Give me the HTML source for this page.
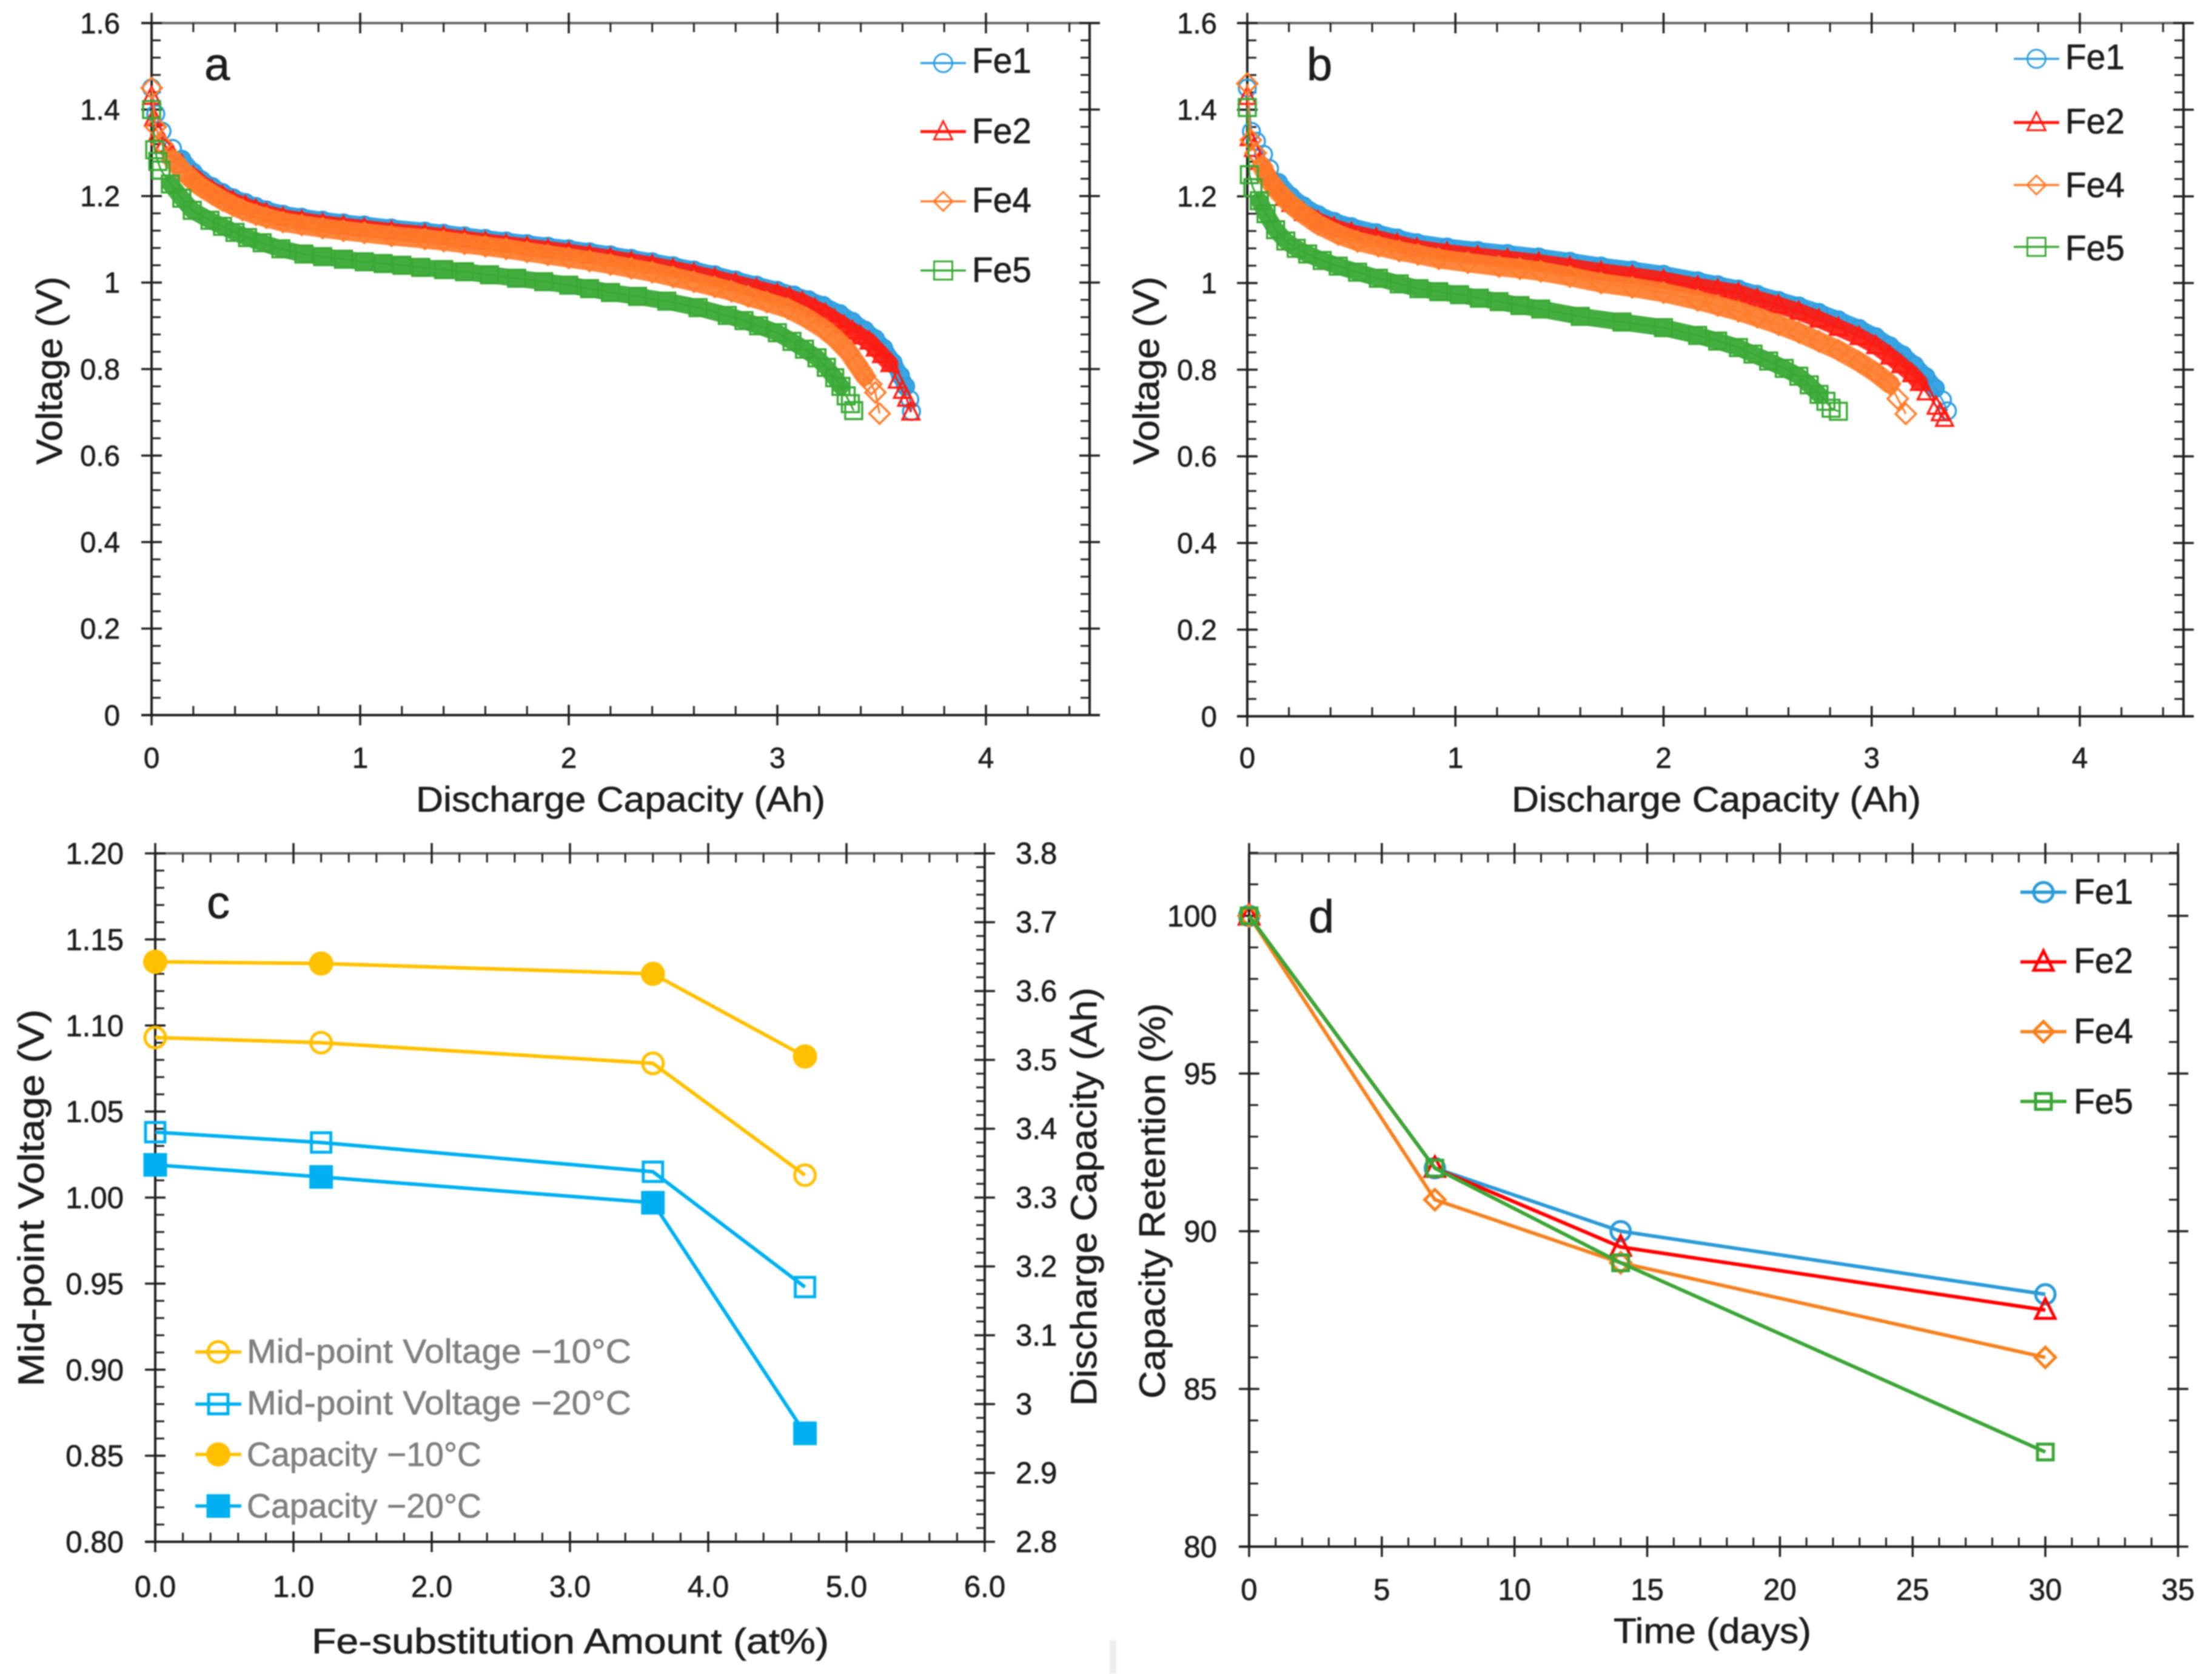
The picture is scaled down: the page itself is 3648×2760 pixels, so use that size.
<!DOCTYPE html>
<html lang="en">
<head>
<meta charset="utf-8">
<title>Fe-substitution battery charts</title>
<style>
html,body{margin:0;padding:0;background:#fff;}
#figure{display:block;filter:blur(1.1px);}
text{font-family:"Liberation Sans",sans-serif;fill:#1c1c1c;stroke:#1c1c1c;stroke-width:.7px;}
text.gray{fill:#7f7f7f;stroke:#7f7f7f;}
</style>
</head>
<body>
<svg id="figure" xmlns="http://www.w3.org/2000/svg" width="3648" height="2760" viewBox="0 0 3648 2760">
  <rect width="3648" height="2760" fill="#fff"/>
  <rect x="1830" y="2704" width="11" height="56" fill="#eeeeee"/>
  <g id="marks"></g>

  <text x="337" y="132" font-size="76">a</text>
  <text x="686" y="1338" font-size="58" textLength="675" lengthAdjust="spacingAndGlyphs">Discharge Capacity (Ah)</text>
  <text transform="translate(102,766) rotate(-90)" font-size="60" textLength="310" lengthAdjust="spacingAndGlyphs">Voltage (V)</text>
  <text x="1603" y="120" font-size="58" textLength="98" lengthAdjust="spacingAndGlyphs">Fe1</text>
  <text x="1603" y="236" font-size="58" textLength="98" lengthAdjust="spacingAndGlyphs">Fe2</text>
  <text x="1603" y="350" font-size="58" textLength="98" lengthAdjust="spacingAndGlyphs">Fe4</text>
  <text x="1603" y="465" font-size="58" textLength="98" lengthAdjust="spacingAndGlyphs">Fe5</text>

  <text x="2155" y="132" font-size="76">b</text>
  <text x="2493" y="1338" font-size="58" textLength="675" lengthAdjust="spacingAndGlyphs">Discharge Capacity (Ah)</text>
  <text transform="translate(1911,766) rotate(-90)" font-size="60" textLength="310" lengthAdjust="spacingAndGlyphs">Voltage (V)</text>
  <text x="3406" y="114" font-size="58" textLength="98" lengthAdjust="spacingAndGlyphs">Fe1</text>
  <text x="3406" y="220" font-size="58" textLength="98" lengthAdjust="spacingAndGlyphs">Fe2</text>
  <text x="3406" y="325" font-size="58" textLength="98" lengthAdjust="spacingAndGlyphs">Fe4</text>
  <text x="3406" y="429" font-size="58" textLength="98" lengthAdjust="spacingAndGlyphs">Fe5</text>

  <text x="341" y="1514" font-size="76">c</text>
  <text x="514" y="2726" font-size="58" textLength="853" lengthAdjust="spacingAndGlyphs">Fe-substitution Amount (at%)</text>
  <text transform="translate(72,2286) rotate(-90)" font-size="60" textLength="622" lengthAdjust="spacingAndGlyphs">Mid-point Voltage (V)</text>
  <text transform="translate(1808,2318) rotate(-90)" font-size="60" textLength="690" lengthAdjust="spacingAndGlyphs">Discharge Capacity (Ah)</text>
  <text class="gray" x="407" y="2247" font-size="56" textLength="634" lengthAdjust="spacingAndGlyphs">Mid-point Voltage −10°C</text>
  <text class="gray" x="407" y="2332" font-size="56" textLength="634" lengthAdjust="spacingAndGlyphs">Mid-point Voltage −20°C</text>
  <text class="gray" x="407" y="2417" font-size="56" textLength="387" lengthAdjust="spacingAndGlyphs">Capacity −10°C</text>
  <text class="gray" x="407" y="2502" font-size="56" textLength="387" lengthAdjust="spacingAndGlyphs">Capacity −20°C</text>

  <text x="2158" y="1537" font-size="76">d</text>
  <text x="2661" y="2709" font-size="58" textLength="326" lengthAdjust="spacingAndGlyphs">Time (days)</text>
  <text transform="translate(1921,2306) rotate(-90)" font-size="60" textLength="652" lengthAdjust="spacingAndGlyphs">Capacity Retention (%)</text>
  <text x="3420" y="1490" font-size="58" textLength="98" lengthAdjust="spacingAndGlyphs">Fe1</text>
  <text x="3420" y="1604" font-size="58" textLength="98" lengthAdjust="spacingAndGlyphs">Fe2</text>
  <text x="3420" y="1720" font-size="58" textLength="98" lengthAdjust="spacingAndGlyphs">Fe4</text>
  <text x="3420" y="1836" font-size="58" textLength="98" lengthAdjust="spacingAndGlyphs">Fe5</text>
</svg>
<script>
// ---- tick labels ----
const capTickValues = [0, 1, 2, 3, 4];
const capTickLabels = ['0', '1', '2', '3', '4'];
const voltTickValues = [0, 0.2, 0.4, 0.6, 0.8, 1, 1.2, 1.4, 1.6];
const voltTickLabels = ['0', '0.2', '0.4', '0.6', '0.8', '1', '1.2', '1.4', '1.6'];
const feTickValues = [0, 1, 2, 3, 4, 5, 6];
const feTickLabels = ['0.0', '1.0', '2.0', '3.0', '4.0', '5.0', '6.0'];
const midTickValues = [0.8, 0.85, 0.9, 0.95, 1, 1.05, 1.1, 1.15, 1.2];
const midTickLabels = ['0.80', '0.85', '0.90', '0.95', '1.00', '1.05', '1.10', '1.15', '1.20'];
const capRightTickValues = [2.8, 2.9, 3, 3.1, 3.2, 3.3, 3.4, 3.5, 3.6, 3.7, 3.8];
const capRightTickLabels = ['2.8', '2.9', '3', '3.1', '3.2', '3.3', '3.4', '3.5', '3.6', '3.7', '3.8'];
const dayTickValues = [0, 5, 10, 15, 20, 25, 30, 35];
const dayTickLabels = ['0', '5', '10', '15', '20', '25', '30', '35'];
const retTickValues = [80, 85, 90, 95, 100];
const retTickLabels = ['80', '85', '90', '95', '100'];

// ---- panel a: discharge curves ----
const aFe1Cap = [0,.02,.05,.1,.145,.2,.24,.29,.34,.39,.45,.5,.55,.63,.72,.82,.92,1.02,1.15,1.31,1.4,1.5,1.6,1.7,1.8,1.9,2,2.1,2.2,2.3,2.4,2.5,2.6,2.7,2.8,2.9,3,3.08,3.15,3.22,3.3,3.36,3.42,3.47,3.51,3.555,3.59,3.615,3.635,3.643];
const aFe1V = [1.45,1.39,1.35,1.31,1.285,1.255,1.237,1.222,1.208,1.196,1.185,1.176,1.168,1.158,1.151,1.144,1.138,1.133,1.126,1.119,1.114,1.108,1.102,1.096,1.09,1.084,1.078,1.071,1.064,1.056,1.048,1.039,1.029,1.018,1.006,.994,.982,.971,.96,.947,.928,.91,.89,.87,.848,.815,.785,.76,.73,.702];
const aFe2Cap = [0,.01,.03,.06,.1,.145,.2,.24,.29,.34,.39,.45,.5,.55,.63,.72,.82,.92,1.02,1.15,1.31,1.4,1.5,1.6,1.7,1.8,1.9,2,2.1,2.2,2.3,2.4,2.5,2.6,2.7,2.8,2.9,3,3.06,3.12,3.18,3.23,3.275,3.32,3.36,3.4,3.44,3.47,3.5,3.54,3.575,3.6,3.62,3.64];
const aFe2V = [1.43,1.38,1.345,1.32,1.295,1.272,1.245,1.228,1.213,1.2,1.188,1.177,1.168,1.16,1.15,1.143,1.136,1.13,1.125,1.118,1.111,1.106,1.1,1.094,1.088,1.082,1.076,1.07,1.063,1.056,1.048,1.04,1.031,1.021,1.01,.998,.986,.974,.965,.955,.94,.928,.914,.9,.888,.876,.864,.848,.833,.812,.774,.75,.732,.70];
const aFe4Cap = [0,.02,.05,.1,.145,.2,.24,.29,.34,.39,.436,.5,.55,.63,.72,.82,.92,1.02,1.15,1.31,1.4,1.5,1.6,1.7,1.8,1.9,2,2.1,2.2,2.3,2.4,2.5,2.6,2.7,2.78,2.86,2.95,3.05,3.14,3.225,3.28,3.34,3.38,3.42,3.45,3.47,3.49];
const aFe4V = [1.45,1.36,1.32,1.285,1.26,1.235,1.22,1.205,1.19,1.178,1.168,1.157,1.15,1.14,1.133,1.126,1.12,1.115,1.108,1.101,1.096,1.09,1.084,1.078,1.071,1.064,1.057,1.05,1.042,1.033,1.024,1.013,1.002,.99,.98,.968,.955,.94,.918,.892,.87,.84,.812,.784,.765,.746,.697];
const aFe5Cap = [0,.015,.03,.045,.09,.145,.195,.28,.34,.4,.46,.53,.62,.73,.82,.92,1.02,1.11,1.2,1.29,1.4,1.5,1.62,1.75,1.88,2,2.1,2.2,2.33,2.47,2.62,2.76,2.84,2.91,3,3.07,3.13,3.19,3.235,3.275,3.305,3.33,3.35,3.366];
const aFe5V = [1.40,1.307,1.28,1.26,1.228,1.195,1.167,1.144,1.13,1.116,1.104,1.092,1.078,1.066,1.06,1.054,1.048,1.044,1.04,1.035,1.03,1.025,1.018,1.01,1.002,.994,.986,.977,.968,.957,.942,.924,.912,.9,.884,.864,.846,.826,.804,.78,.76,.738,.72,.704];

// ---- panel b: discharge curves ----
const bFe1Cap = [0,.02,.044,.078,.107,.15,.21,.27,.34,.417,.5,.62,.72,.815,.96,1.107,1.25,1.4,1.55,1.7,1.85,2,2.164,2.26,2.36,2.45,2.552,2.65,2.747,2.84,2.94,3.02,3.088,3.15,3.207,3.26,3.306,3.34,3.364];
const bFe1V = [1.45,1.35,1.327,1.297,1.264,1.232,1.2,1.178,1.158,1.142,1.13,1.116,1.104,1.093,1.083,1.075,1.068,1.06,1.05,1.039,1.03,1.02,1.005,.996,.986,.974,.96,.947,.932,.915,.895,.876,.855,.834,.81,.784,.757,.73,.705];
const bFe2Cap = [0,.01,.03,.06,.09,.13,.18,.21,.27,.34,.417,.5,.62,.72,.815,.96,1.107,1.25,1.4,1.55,1.7,1.85,2,2.164,2.26,2.36,2.45,2.552,2.65,2.747,2.84,2.94,3.02,3.088,3.14,3.193,3.23,3.262,3.31,3.33,3.35];
const bFe2V = [1.43,1.335,1.31,1.28,1.255,1.225,1.197,1.183,1.162,1.143,1.128,1.116,1.103,1.091,1.08,1.07,1.062,1.055,1.047,1.037,1.026,1.017,1.007,.992,.985,.977,.963,.949,.934,.916,.897,.876,.855,.831,.811,.79,.77,.748,.715,.70,.687];
const bFe4Cap = [0,.017,.04,.07,.1,.15,.2,.243,.34,.437,.53,.63,.73,.82,.92,1.06,1.21,1.31,1.41,1.55,1.7,1.85,2,2.164,2.26,2.36,2.45,2.552,2.65,2.747,2.84,2.94,3.02,3.088,3.125,3.164];
const bFe4V = [1.46,1.33,1.3,1.27,1.24,1.21,1.185,1.168,1.135,1.112,1.096,1.085,1.074,1.066,1.056,1.047,1.038,1.033,1.027,1.015,1.0,.99,.978,.96,.948,.935,.921,.904,.886,.865,.845,.818,.793,.767,.733,.698];
const bFe5Cap = [0,.01,.027,.058,.09,.136,.185,.235,.29,.36,.437,.53,.63,.73,.825,.92,1.02,1.115,1.21,1.31,1.41,1.6,1.8,2,2.164,2.26,2.36,2.43,2.505,2.58,2.65,2.7,2.747,2.78,2.805,2.84];
const bFe5V = [1.405,1.25,1.22,1.19,1.16,1.123,1.097,1.08,1.067,1.052,1.039,1.025,1.011,.998,.987,.98,.973,.965,.957,.948,.94,.923,.91,.897,.879,.866,.851,.836,.82,.803,.785,.765,.743,.727,.711,.704];

// ---- panel c: mid-point voltage and capacity ----
const feAmounts = [0, 1.2, 3.6, 4.7];
const midVoltage10 = [1.093, 1.090, 1.078, 1.013];
const midVoltage20 = [1.038, 1.032, 1.015, 0.948];
const capacity10 = [3.6425, 3.64, 3.625, 3.505];
const capacity20 = [3.3475, 3.33, 3.2925, 2.9575];

// ---- panel d: capacity retention ----
const retentionDays = [0, 7, 14, 30];
const retentionFe1 = [100, 92, 90, 88];
const retentionFe2 = [100, 92, 89.5, 87.5];
const retentionFe4 = [100, 91, 89, 86];
const retentionFe5 = [100, 92, 89, 83];

const NS = 'http://www.w3.org/2000/svg';
const root = document.getElementById('marks');
const AXIS = '#1e1e1e';
const C = {fe1:'#2f9fe0', fe2:'#ff1a10', fe4:'#ff7c2a', fe5:'#3aa935'};
const D = {fe1:'#2b9bd8', fe2:'#ff0000', fe4:'#f58220', fe5:'#3aa635', yel:'#ffc000', cya:'#00b0f0'};

function mk(tag, attrs, name, parent, txt) {
  const el = document.createElementNS(NS, tag);
  for (const k in attrs) el.setAttribute(k, attrs[k]);
  
  
  if (txt !== undefined) el.textContent = txt;
  parent.appendChild(el);
  return el;
}
function linear(d0, d1, r0, r1) { return v => r0 + (v - d0) * (r1 - r0) / (d1 - d0); }
function seg(p, x1, y1, x2, y2, name, w, col) {
  mk('line', {x1, y1, x2, y2, stroke: col || AXIS, 'stroke-width': w || 3.5}, name, p);
}
// narrow digits: labels are fitted to the condensed width of the original typeface
function labelWidth(str, em) {
  let w = 0;
  for (const ch of str) w += (ch === '.') ? 0.252 * em : 0.507 * em;
  return w;
}

function axes(p, id, o) {
  const g = mk('g', {}, id + '-axes', p);
  const {X, Y, l, r, t, b} = o;
  seg(g, l, t, l, b, id + '-left-axis-line', 4);
  seg(g, r, t, r, b, id + '-right-axis-line', 4);
  seg(g, l - (o.xOver || 0), t, r + (o.xOver || 0), t, id + '-top-axis-line', 4, '#666');
  seg(g, l - 17, b, r + (o.xOver || 0), b, id + '-bottom-axis-line', 4);
  o.xT.forEach((v, i) => {
    const x = X(v);
    seg(g, x, b - 17, x, b + 17, id + '-x-major-tick', 3.5);
    seg(g, x, t - 17, x, t + 17, id + '-x-top-major-tick', 3.5);
    mk('text', {x: x, y: o.xLabY, 'text-anchor': 'middle', 'font-size': o.fs, textLength: labelWidth(o.xL[i], o.em), lengthAdjust: 'spacingAndGlyphs'}, id + '-x-tick-label', g, o.xL[i]);
  });
  for (let v = o.xMin; v <= o.xMax + 1e-6; v += o.xMinor) {
    const x = X(v);
    seg(g, x, b - 15, x, b, id + '-x-minor-tick', 3);
    seg(g, x, t, x, t + 15, id + '-x-top-minor-tick', 3);
  }
  o.yT.forEach((v, i) => {
    const y = Y(v);
    seg(g, l - 17, y, l + 17, y, id + '-y-major-tick', 3.5);
    if (o.rightMajor) seg(g, r - 17, y, r + 17, y, id + '-y-right-major-tick', 3.5);
    mk('text', {x: o.yLabX, y: y + o.fs * 0.35, 'text-anchor': 'end', 'font-size': o.fs, textLength: labelWidth(o.yL[i], o.em), lengthAdjust: 'spacingAndGlyphs'}, id + '-y-tick-label', g, o.yL[i]);
  });
  for (let v = o.yMin; v <= o.yMax + 1e-6; v += o.yMinor) {
    const y = Y(v);
    seg(g, l, y, l + 15, y, id + '-y-minor-tick', 3);
    if (o.rightMajor) seg(g, r - 15, y, r, y, id + '-y-right-minor-tick', 3);
  }
}

function marker(p, kind, x, y, s, col, sw, fill, name) {
  const a = {fill: fill || 'none', stroke: col, 'stroke-width': sw};
  if (kind === 'circle') { a.cx = x; a.cy = y; a.r = s; mk('circle', a, name, p); }
  if (kind === 'square') { a.x = x - s; a.y = y - s; a.width = 2 * s; a.height = 2 * s; mk('rect', a, name, p); }
  if (kind === 'triangle') { a.points = [x, y - s * 1.15, x + s, y + s * 0.85, x - s, y + s * 0.85].join(','); mk('polygon', a, name, p); }
  if (kind === 'diamond') { a.points = [x, y - s * 1.2, x + s * 1.2, y, x, y + s * 1.2, x - s * 1.2, y].join(','); mk('polygon', a, name, p); }
}

function bandSeries(p, id, X, Y, xs, ys, col, kind, from, tail, width, op) {
  const g = mk('g', {}, id + '-series', p);
  const all = xs.map((v, i) => X(v) + ',' + Y(ys[i])).join(' ');
  mk('polyline', {points: all, fill: 'none', stroke: col, 'stroke-width': 3}, id + '-line', g);
  const stop = xs.length - tail;
  const band = xs.slice(from, stop).map((v, i) => X(v) + ',' + Y(ys[i + from])).join(' ');
  mk('polyline', {points: band, fill: 'none', stroke: col, 'stroke-width': width, 'stroke-linejoin': 'round', 'stroke-linecap': 'round', 'stroke-opacity': op}, id + '-band', g);
  xs.forEach((v, i) => marker(g, kind, X(v), Y(ys[i]), 14, col, 3.5, null, id + '-point'));
}

function lineSeries(p, id, X, Y, xs, ys, col, kind, size, fill) {
  const g = mk('g', {}, id + '-series', p);
  mk('polyline', {points: xs.map((v, i) => X(v) + ',' + Y(ys[i])).join(' '), fill: 'none', stroke: col, 'stroke-width': 6}, id + '-line', g);
  xs.forEach((v, i) => marker(g, kind, X(v), Y(ys[i]), size, col, 5, fill ? col : 'none', id + '-point'));
}

function legendKey(p, id, x1, x2, y, col, kind, s, sw, lw, filled) {
  const g = mk('g', {}, id, p);
  seg(g, x1, y, x2, y, id + '-line', lw, col);
  marker(g, kind, (x1 + x2) / 2, y, s, col, sw, filled ? col : 'none', id + '-marker');
}

function dischargePanel(id, l, r, t, b, x4, yLabX, series, keyX1, keyX2, keyY) {
  const X = linear(0, 4, l, x4), Y = linear(0, 1.6, b, t);
  const p = mk('g', {}, id, root);
  axes(p, id, {X, Y, l, r, t, b, xOver: 17, rightMajor: true, xT: capTickValues, xL: capTickLabels, xMin: 0, xMax: 4.5, xMinor: 0.2,
    yT: voltTickValues, yL: voltTickLabels, yMin: 0, yMax: 1.6, yMinor: 0.04, xLabY: 1266, yLabX, fs: 48, em: 52});
  const kinds = ['circle', 'triangle', 'diamond', 'square'];
  const cols = [C.fe1, C.fe2, C.fe4, C.fe5];
  const widths = [28, 28, 32, 28];
  const ops = [0.95, 0.92, 0.92, 0.95];
  const names = ['fe1', 'fe2', 'fe4', 'fe5'];
  series.forEach((s, i) => bandSeries(p, id + '-' + names[i], X, Y, s[0], s[1], cols[i], kinds[i], s[2], s[3], widths[i], ops[i]));
  names.forEach((n, i) => legendKey(p, id + '-legend-key-' + n, keyX1, keyX2, keyY[i], cols[i], kinds[i], i === 2 ? 13 : 15, 3, i === 1 ? 5 : 3.5));
}

dischargePanel('panel-a', 250, 1797, 38, 1179, 1626, 198, [
  [aFe1Cap, aFe1V, 4, 2], [aFe2Cap, aFe2V, 6, 4], [aFe4Cap, aFe4V, 3, 3], [aFe5Cap, aFe5V, 4, 3]
], 1518, 1593, [104, 217, 332, 446]);
dischargePanel('panel-b', 2057, 3601, 38, 1181, 3430, 2007, [
  [bFe1Cap, bFe1V, 5, 2], [bFe2Cap, bFe2V, 4, 4], [bFe4Cap, bFe4V, 3, 2], [bFe5Cap, bFe5V, 3, 3]
], 3321, 3396, [97, 202, 305, 407]);

// panel c
(function () {
  const l = 256, r = 1624, t = 1407, b = 2542;
  const X = linear(0, 6, l, r), Y = linear(0.8, 1.2, b, t), YR = linear(2.8, 3.8, b, t);
  const p = mk('g', {}, 'panel-c', root);
  axes(p, 'panel-c', {X, Y, l, r, t, b, xOver: 0, rightMajor: false, xT: feTickValues, xL: feTickLabels, xMin: 0, xMax: 6, xMinor: 0.2,
    yT: midTickValues, yL: midTickLabels, yMin: 0.8, yMax: 1.2, yMinor: 0.01, xLabY: 2633, yLabX: 204, fs: 50, em: 54});
  capRightTickValues.forEach((v, i) => {
    const y = YR(v);
    seg(p, r - 17, y, r + 17, y, 'panel-c-right-major-tick', 3.5);
    mk('text', {x: 1675, y: y + 17, 'font-size': 50, textLength: labelWidth(capRightTickLabels[i], 54), lengthAdjust: 'spacingAndGlyphs'}, 'panel-c-right-tick-label', p, capRightTickLabels[i]);
  });
  for (let v = 2.8; v <= 3.8 + 1e-6; v += 0.02) {
    seg(p, r - 14, YR(v), r, YR(v), 'panel-c-right-minor-tick', 3);
  }
  lineSeries(p, 'panel-c-capacity-10', X, YR, feAmounts, capacity10, D.yel, 'circle', 17.5, true);
  lineSeries(p, 'panel-c-midpoint-10', X, Y, feAmounts, midVoltage10, D.yel, 'circle', 17, false);
  lineSeries(p, 'panel-c-midpoint-20', X, Y, feAmounts, midVoltage20, D.cya, 'square', 16, false);
  lineSeries(p, 'panel-c-capacity-20', X, YR, feAmounts, capacity20, D.cya, 'square', 17, true);
  legendKey(p, 'panel-c-legend-key-mid-10', 322, 398, 2229, D.yel, 'circle', 17, 5, 5.5);
  legendKey(p, 'panel-c-legend-key-mid-20', 322, 398, 2315, D.cya, 'square', 16, 5, 5.5);
  legendKey(p, 'panel-c-legend-key-cap-10', 322, 398, 2398, D.yel, 'circle', 17.5, 5, 5.5, true);
  legendKey(p, 'panel-c-legend-key-cap-20', 322, 398, 2483, D.cya, 'square', 17, 5, 5.5, true);
})();

// panel d
(function () {
  const l = 2060, r = 3592, t = 1407, b = 2550;
  const X = linear(0, 35, l, r), Y = linear(80, 100, b, 1510);
  const p = mk('g', {}, 'panel-d', root);
  axes(p, 'panel-d', {X, Y, l, r, t, b, xOver: 0, rightMajor: true, xT: dayTickValues, xL: dayTickLabels, xMin: 0, xMax: 35, xMinor: 1,
    yT: retTickValues, yL: retTickLabels, yMin: 80, yMax: 102, yMinor: 1, xLabY: 2638, yLabX: 2007, fs: 50, em: 54});
  lineSeries(p, 'panel-d-fe1', X, Y, retentionDays, retentionFe1, D.fe1, 'circle', 16, false);
  lineSeries(p, 'panel-d-fe2', X, Y, retentionDays, retentionFe2, D.fe2, 'triangle', 16, false);
  lineSeries(p, 'panel-d-fe4', X, Y, retentionDays, retentionFe4, D.fe4, 'diamond', 14, false);
  lineSeries(p, 'panel-d-fe5', X, Y, retentionDays, retentionFe5, D.fe5, 'square', 13, false);
  legendKey(p, 'panel-d-legend-key-fe1', 3332, 3408, 1471, D.fe1, 'circle', 16, 5, 5.5);
  legendKey(p, 'panel-d-legend-key-fe2', 3332, 3408, 1586, D.fe2, 'triangle', 16, 5, 5.5);
  legendKey(p, 'panel-d-legend-key-fe4', 3332, 3408, 1701, D.fe4, 'diamond', 14, 5, 5.5);
  legendKey(p, 'panel-d-legend-key-fe5', 3332, 3408, 1816, D.fe5, 'square', 13, 5, 5.5);
})();
</script>
</body>
</html>
